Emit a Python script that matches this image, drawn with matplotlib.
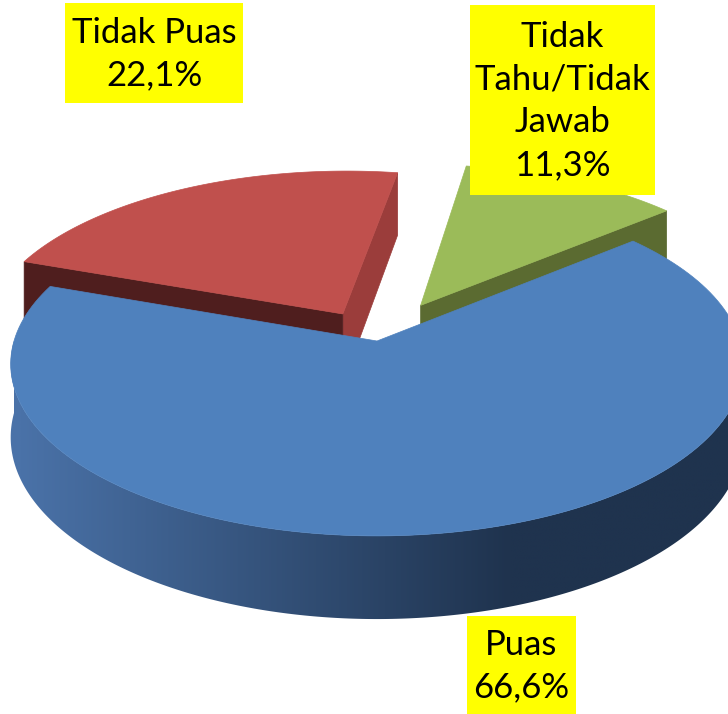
import numpy as np
import matplotlib
matplotlib.use("Agg")
import matplotlib.pyplot as plt
from matplotlib.patches import Polygon, Rectangle

# --- data ---
labels = ["Puas", "Tidak Puas", "Tidak\nTahu/Tidak\nJawab"]
values = [66.6, 22.1, 11.3]
explode = [0.0, 0.19, 0.25]

top_colors = ["#4F81BD", "#C0504D", "#9BBB59"]
# wall colours: (wall at start edge, wall at end edge)
wall_colors = [("#4A72A8", "#4A72A8"), ("#9B3D3B", "#4F1E1E"), ("#5B6B31", "#5B6B31")]
side_left, side_right = np.array([74, 114, 168]) / 255, np.array([31, 51, 78]) / 255

W, H = 728, 714
START = 40.0  # degrees, slices run clockwise

# simple perspective projection of a unit pie
R, K, P, DEPTH = 363.0, 0.465, 0.134, 72.0
CX, CY = 377.0, 341.0


def proj(X, Y, Z=0.0):
    X = np.asarray(X, float)
    Y = np.asarray(Y, float)
    f = 1.0 / (1.0 + P * Y)
    return CX + R * X * f, CY - R * K * Y * f + DEPTH * Z * f


def arc(ox, oy, a0, a1, n=160):
    t = np.radians(np.linspace(a0, a1, n))
    return ox + np.cos(t), oy + np.sin(t)


fig = plt.figure(figsize=(W / 100, H / 100), dpi=100)
ax = fig.add_axes([0, 0, 1, 1])
ax.set_xlim(0, W)
ax.set_ylim(H, 0)
ax.axis("off")

total = sum(values)
spans = [v / total * 360.0 for v in values]
slices = []
a = START
for i, s in enumerate(spans):
    hi, lo = a, a - s
    mid = np.radians((hi + lo) / 2)
    ox, oy = explode[i] * np.cos(mid), explode[i] * np.sin(mid)
    slices.append((i, lo, hi, ox, oy))
    a = lo

# horizontal gradient used for the curved side
grad_x = np.linspace(0, W, 300)
u = np.clip((grad_x - 20) / 490.0, 0, 1)[None, :, None]
grad = side_left * (1 - u) + side_right * u

# draw back slices first, big front slice last
for i, lo, hi, ox, oy in [slices[2], slices[1], slices[0]]:
    # radial walls
    for ang, face, col in [(lo, lo - 90, wall_colors[i][0]), (hi, hi + 90, wall_colors[i][1])]:
        if np.sin(np.radians(face)) < 0:
            ex, ey = ox + np.cos(np.radians(ang)), oy + np.sin(np.radians(ang))
            p0 = proj(ox, oy, 0); p1 = proj(ex, ey, 0)
            p2 = proj(ex, ey, 1); p3 = proj(ox, oy, 1)
            ax.add_patch(Polygon([p0, p1, p2, p3], closed=True, fc=col, ec=col, lw=0.5))
    # outer wall (front half only)
    a0, a1 = max(lo, -180.0), min(hi, 0.0)
    if a1 > a0:
        xs, ys = arc(ox, oy, a0, a1, 300)
        tx, ty = proj(xs, ys, 0)
        bx, by = proj(xs, ys, 1)
        side = Polygon(np.column_stack([np.r_[tx, bx[::-1]], np.r_[ty, by[::-1]]]),
                       closed=True, fc="none", ec="none")
        ax.add_patch(side)
        im = ax.imshow(grad, extent=(0, W, by.max() + 2, ty.min() - 2),
                       aspect="auto", interpolation="bilinear")
        im.set_clip_path(side)
    # top face
    xs, ys = arc(ox, oy, lo, hi)
    px, py = proj(np.r_[ox, xs], np.r_[oy, ys], 0)
    ax.add_patch(Polygon(np.column_stack([px, py]), closed=True,
                         fc=top_colors[i], ec=top_colors[i], lw=0.5, zorder=3))

ax.set_xlim(0, W)
ax.set_ylim(H, 0)

# labels in yellow boxes
boxes = [(467, 616, 576, 714), (65, 3, 243, 103), (470, 5, 655, 195)]
for i, (x0, y0, x1, y1) in enumerate(boxes):
    ax.add_patch(Rectangle((x0, y0), x1 - x0, y1 - y0, fc="#FFFF00", ec="none", zorder=5))
    txt = f"{labels[i]}\n{values[i]:.1f}%".replace(".", ",")
    ax.text((x0 + x1) / 2, (y0 + y1) / 2 + 1, txt, ha="center", va="center",
            fontsize=25, family="Lato", linespacing=1.42, zorder=6)

fig.savefig("out.png", dpi=100)
